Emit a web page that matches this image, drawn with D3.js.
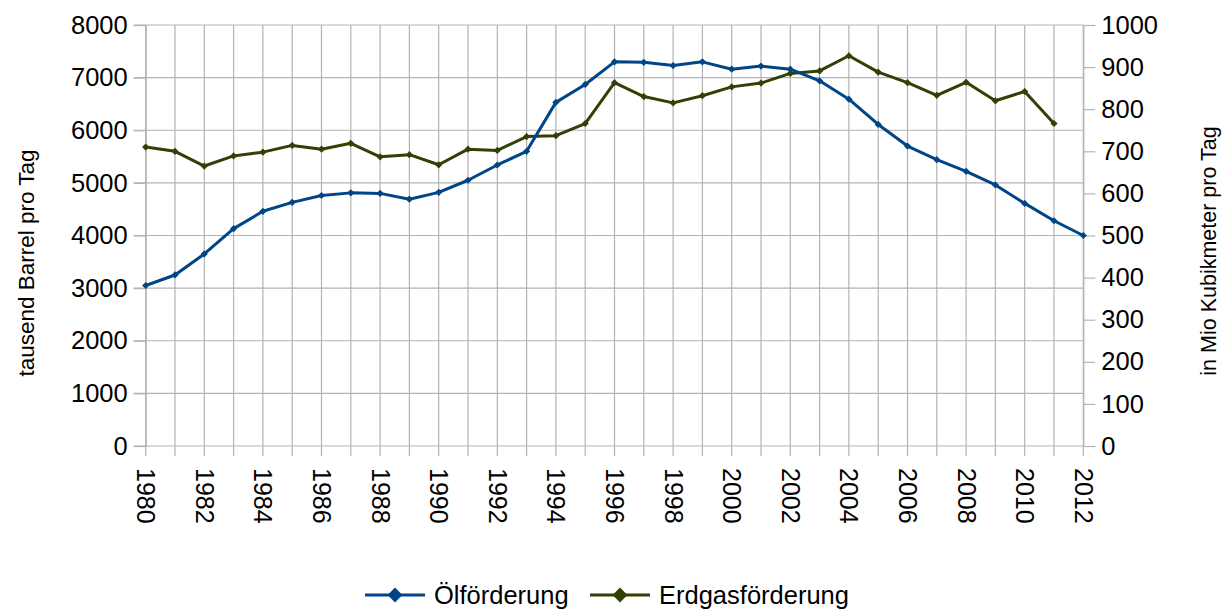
<!DOCTYPE html>
<html>
<head>
<meta charset="utf-8">
<script src="https://cdn.jsdelivr.net/npm/d3@7"></script>
<style>
  body { margin: 0; background: #fff; }
  text { font-family: "Liberation Sans", Arial, sans-serif; fill: #000; }
</style>
</head>
<body>
<div id="chart"></div>
<script>
// Data
var years = d3.range(1980, 2013);
var oilValues = [3050, 3250, 3650, 4130, 4460, 4630, 4760, 4810, 4800, 4690, 4820, 5050,
  5340, 5600, 6530, 6870, 7300, 7290, 7230, 7300, 7160, 7220, 7160, 6940, 6590, 6110,
  5700, 5440, 5220, 4960, 4610, 4280, 4000];
var gasValues = [710, 700, 665, 689, 698, 714, 705, 719, 687, 692, 668, 705,
  702, 735, 737, 766, 863, 830, 815, 832, 853, 862, 885, 891, 927, 888,
  863, 833, 864, 820, 842, 766];
var leftTicks = d3.range(0, 8001, 1000);
var rightTicks = d3.range(0, 1001, 100);
var seriesNames = ["Ölförderung", "Erdgasförderung"];
var seriesColors = ["#004586", "#314004"];

const width = 1222, height = 610;
const plot = {left: 145.7, right: 1083.3, top: 25, bottom: 446};
const gridColor = "#b3b3b3";

var svg = d3.select("#chart")
  .append("svg")
  .attr("width", width)
  .attr("height", height);

var x = d3.scaleLinear().domain([1980, 2012]).range([plot.left, plot.right]);
var yLeft = d3.scaleLinear().domain([0, 8000]).range([plot.bottom, plot.top]);
var yRight = d3.scaleLinear().domain([0, 1000]).range([plot.bottom, plot.top]);

// Grid lines: one vertical per year, horizontal per 1000 of the left axis
svg.append("g")
  .selectAll("line")
  .data(years)
  .join("line")
  .attr("x1", d => x(d)).attr("x2", d => x(d))
  .attr("y1", plot.top).attr("y2", plot.bottom + 10)
  .attr("stroke", gridColor).attr("stroke-width", 1.2);

svg.append("g")
  .selectAll("line")
  .data(leftTicks)
  .join("line")
  .attr("x1", plot.left - 12).attr("x2", plot.right)
  .attr("y1", d => yLeft(d)).attr("y2", d => yLeft(d))
  .attr("stroke", gridColor).attr("stroke-width", 1.2);

// Left axis
var leftAxis = svg.append("g")
  .attr("transform", "translate(" + plot.left + ",0)")
  .call(d3.axisLeft(yLeft).tickValues(leftTicks).tickFormat(d3.format("d"))
    .tickSize(12).tickSizeOuter(0).tickPadding(6));

// Right axis
var rightAxis = svg.append("g")
  .attr("transform", "translate(" + plot.right + ",0)")
  .call(d3.axisRight(yRight).tickValues(rightTicks).tickFormat(d3.format("d"))
    .tickSize(12).tickSizeOuter(0).tickPadding(6));

[leftAxis, rightAxis].forEach(function(ax) {
  ax.select(".domain").attr("stroke", gridColor).attr("stroke-width", 1.2);
  ax.selectAll(".tick line").attr("stroke", gridColor).attr("stroke-width", 1.2);
  ax.selectAll(".tick text").style("font-size", "25.5px").attr("fill", "#000");
});

// Bottom axis with rotated year labels (every second year)
var bottomAxis = svg.append("g")
  .attr("transform", "translate(0," + plot.bottom + ")")
  .call(d3.axisBottom(x).tickValues(years).tickSize(0)
    .tickFormat(d => d % 2 == 0 ? String(d) : ""));
bottomAxis.select(".domain").remove();
bottomAxis.selectAll(".tick text")
  .style("font-size", "25px")
  .style("text-anchor", "start")
  .attr("transform", "rotate(90)")
  .attr("x", 22)
  .attr("y", 0)
  .attr("dy", "0.36em");

// Axis titles
svg.append("text")
  .attr("text-anchor", "middle")
  .attr("transform", "translate(26,263) rotate(-90)")
  .attr("dy", "0.35em")
  .style("font-size", "22.5px")
  .text("tausend Barrel pro Tag");
svg.append("text")
  .attr("text-anchor", "middle")
  .attr("transform", "translate(1208,251) rotate(-90)")
  .attr("dy", "0.35em")
  .style("font-size", "21.5px")
  .text("in Mio Kubikmeter pro Tag");

// Lines and diamond markers
var marker = d3.symbol().type(d3.symbolSquare).size(26);

function drawSeries(values, scale, color) {
  var line = d3.line()
    .x((d, i) => x(years[i]))
    .y(d => scale(d));
  svg.append("path")
    .datum(values)
    .attr("fill", "none")
    .attr("stroke", color)
    .attr("stroke-width", 3)
    .attr("stroke-linejoin", "round")
    .attr("d", line);
  svg.append("g")
    .selectAll("path")
    .data(values)
    .join("path")
    .attr("d", marker)
    .attr("fill", color)
    .attr("transform", (d, i) => "translate(" + x(years[i]) + "," + scale(d) + ") rotate(45)");
}
drawSeries(gasValues, yRight, seriesColors[1]);
drawSeries(oilValues, yLeft, seriesColors[0]);

// Legend
var legendItems = [
  {name: seriesNames[0], color: seriesColors[0], x: 365},
  {name: seriesNames[1], color: seriesColors[1], x: 590}
];
var legendY = 595;
var bigMarker = d3.symbol().type(d3.symbolSquare).size(110);
var legend = svg.append("g");
legendItems.forEach(function(item) {
  legend.append("line")
    .attr("x1", item.x).attr("x2", item.x + 60)
    .attr("y1", legendY).attr("y2", legendY)
    .attr("stroke", item.color).attr("stroke-width", 3);
  legend.append("path")
    .attr("d", bigMarker)
    .attr("fill", item.color)
    .attr("transform", "translate(" + (item.x + 30) + "," + legendY + ") rotate(45)");
  legend.append("text")
    .attr("x", item.x + 69)
    .attr("y", legendY)
    .attr("dy", "0.35em")
    .style("font-size", "25.5px")
    .text(item.name);
});
</script>
</body>
</html>
